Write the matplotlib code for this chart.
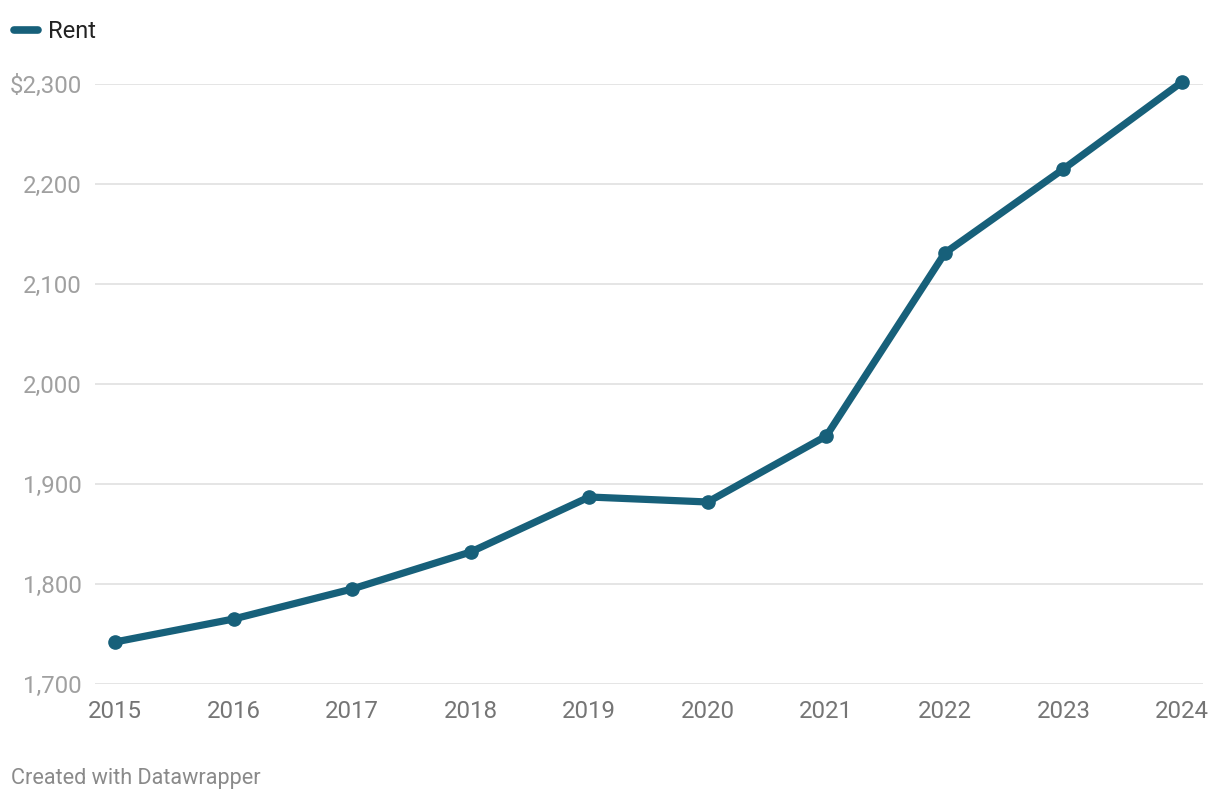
import matplotlib
matplotlib.use("Agg")
import matplotlib.pyplot as plt
from matplotlib.ticker import FuncFormatter

years = [2015, 2016, 2017, 2018, 2019, 2020, 2021, 2022, 2023, 2024]
rent = [1742, 1765, 1795, 1832, 1887, 1882, 1948, 2131, 2215, 2302]
yticks = [1700, 1800, 1900, 2000, 2100, 2200, 2300]

plt.rcParams['font.family'] = ['Roboto', 'DejaVu Sans']
color = '#17607a'

fig = plt.figure(figsize=(12.2, 8.0), dpi=100)
ax = fig.add_axes([95/1220, 116/800, (1203-95)/1220, 600/800])
ax.set_xlim(2015 - 20/118.56, 2024 + 21/118.56)
ax.set_ylim(1700, 2300)

for t in yticks:
    ax.axhline(t, color='#e3e3e3', lw=1.3, zorder=1)

ax.plot(years, rent, color=color, lw=5.2, marker='o', markersize=9.5,
        solid_capstyle='round', solid_joinstyle='round', zorder=3, clip_on=False)

for s in ax.spines.values():
    s.set_visible(False)
ax.set_yticks(yticks)
ax.yaxis.set_major_formatter(FuncFormatter(lambda v, p: ('$' if v == 2300 else '') + f"{int(v):,}"))
ax.tick_params(axis='y', length=0, pad=9.5, labelsize=17.3, labelcolor='#a0a0a0')
ax.set_xticks(years)
ax.set_xticklabels([str(y) for y in years])
ax.tick_params(axis='x', length=0, pad=11.5, labelsize=17.3, labelcolor='#757575')

# legend
fig.lines.append(plt.Line2D([14/1220, 38/1220], [770/800, 770/800], color=color, lw=5.5,
                            solid_capstyle='round', transform=fig.transFigure))
fig.text(48/1220, 768.5/800, 'Rent', fontsize=17, color='#222222', va='center', ha='left')

fig.text(11/1220, 21.5/800, 'Created with Datawrapper', fontsize=15.6, color='#8a8a8a',
         va='center', ha='left')

fig.savefig('out.png', dpi=100, facecolor='white')
